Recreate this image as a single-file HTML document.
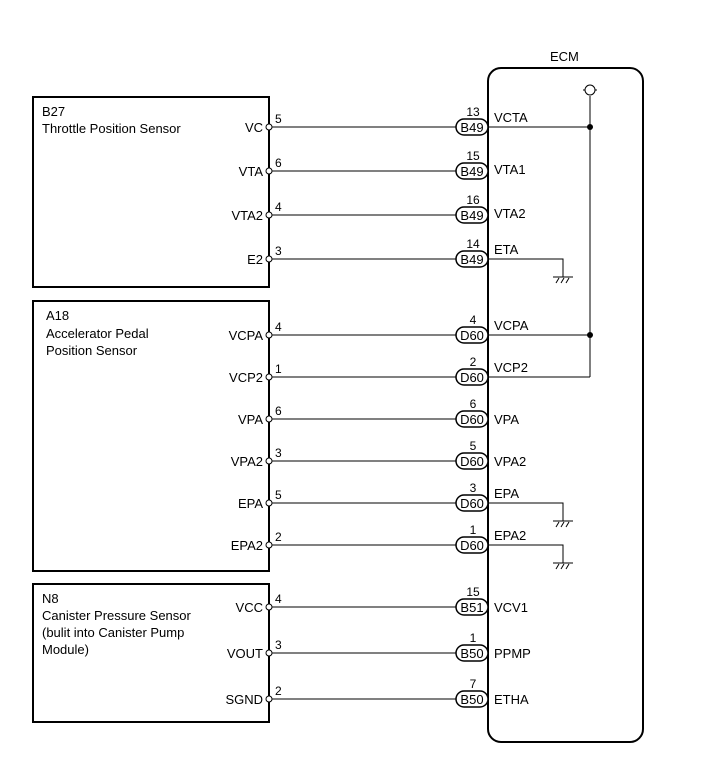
<!DOCTYPE html>
<html><head><meta charset="utf-8"><style>
html,body{margin:0;padding:0;background:#fff;}
svg{display:block;}
text{font-family:"Liberation Sans",Arial,sans-serif;font-size:13px;fill:#000;}
.s{font-size:12px;}
.e{text-anchor:end;}
.m{text-anchor:middle;}
</style></head><body>
<svg width="713" height="782" viewBox="0 0 713 782" xmlns="http://www.w3.org/2000/svg">
<g fill="none" stroke="#000">
<rect x="33" y="97" width="236" height="190" stroke-width="2"/>
<rect x="33" y="301" width="236" height="270" stroke-width="2"/>
<rect x="33" y="584" width="236" height="138" stroke-width="2"/>
<rect x="488" y="68" width="155" height="674" rx="13" ry="13" stroke-width="2"/>
</g>
<text x="550" y="61">ECM</text>
<text x="42" y="116">B27</text>
<text x="42" y="133">Throttle Position Sensor</text>
<text x="46" y="320">A18</text>
<text x="46" y="338">Accelerator Pedal</text>
<text x="46" y="355">Position Sensor</text>
<text x="42" y="603">N8</text>
<text x="42" y="620">Canister Pressure Sensor</text>
<text x="42" y="637">(bulit into Canister Pump</text>
<text x="42" y="654">Module)</text>

<g stroke="#000" fill="none" stroke-width="1">
<line x1="590" y1="96" x2="590" y2="377"/>
<line x1="583" y1="90" x2="597" y2="90"/>
<circle cx="590" cy="90" r="5" fill="#fff"/>
<line x1="488" y1="377" x2="590" y2="377"/>
<line x1="488" y1="127" x2="590" y2="127"/>
<line x1="488" y1="335" x2="590" y2="335"/>
<polyline points="488,259 563,259 563,277"/>
<polyline points="488,503 563,503 563,521"/>
<polyline points="488,545 563,545 563,563"/>
<line x1="553" y1="277" x2="573" y2="277"/>
<line x1="556" y1="283" x2="559" y2="278"/><line x1="561" y1="283" x2="564" y2="278"/><line x1="566" y1="283" x2="569" y2="278"/>
<line x1="553" y1="521" x2="573" y2="521"/>
<line x1="556" y1="527" x2="559" y2="522"/><line x1="561" y1="527" x2="564" y2="522"/><line x1="566" y1="527" x2="569" y2="522"/>
<line x1="553" y1="563" x2="573" y2="563"/>
<line x1="556" y1="569" x2="559" y2="564"/><line x1="561" y1="569" x2="564" y2="564"/><line x1="566" y1="569" x2="569" y2="564"/>
<!-- wires -->
<line x1="272" y1="127" x2="456" y2="127"/>
<line x1="272" y1="171" x2="456" y2="171"/>
<line x1="272" y1="215" x2="456" y2="215"/>
<line x1="272" y1="259" x2="456" y2="259"/>
<line x1="272" y1="335" x2="456" y2="335"/>
<line x1="272" y1="377" x2="456" y2="377"/>
<line x1="272" y1="419" x2="456" y2="419"/>
<line x1="272" y1="461" x2="456" y2="461"/>
<line x1="272" y1="503" x2="456" y2="503"/>
<line x1="272" y1="545" x2="456" y2="545"/>
<line x1="272" y1="607" x2="456" y2="607"/>
<line x1="272" y1="653" x2="456" y2="653"/>
<line x1="272" y1="699" x2="456" y2="699"/>
</g>
<circle cx="590" cy="127" r="3"/>
<circle cx="590" cy="335" r="3"/>
<g fill="#fff" stroke="#000">
<circle cx="269" cy="127" r="3"/><circle cx="269" cy="171" r="3"/><circle cx="269" cy="215" r="3"/><circle cx="269" cy="259" r="3"/>
<circle cx="269" cy="335" r="3"/><circle cx="269" cy="377" r="3"/><circle cx="269" cy="419" r="3"/><circle cx="269" cy="461" r="3"/><circle cx="269" cy="503" r="3"/><circle cx="269" cy="545" r="3"/>
<circle cx="269" cy="607" r="3"/><circle cx="269" cy="653" r="3"/><circle cx="269" cy="699" r="3"/>
</g>
<g fill="#fff" stroke="#000" stroke-width="1.5">
<rect x="456" y="119" width="32" height="16" rx="8"/>
<rect x="456" y="163" width="32" height="16" rx="8"/>
<rect x="456" y="207" width="32" height="16" rx="8"/>
<rect x="456" y="251" width="32" height="16" rx="8"/>
<rect x="456" y="327" width="32" height="16" rx="8"/>
<rect x="456" y="369" width="32" height="16" rx="8"/>
<rect x="456" y="411" width="32" height="16" rx="8"/>
<rect x="456" y="453" width="32" height="16" rx="8"/>
<rect x="456" y="495" width="32" height="16" rx="8"/>
<rect x="456" y="537" width="32" height="16" rx="8"/>
<rect x="456" y="599" width="32" height="16" rx="8"/>
<rect x="456" y="645" width="32" height="16" rx="8"/>
<rect x="456" y="691" width="32" height="16" rx="8"/>
</g>
<!-- left labels -->
<text class="e" x="263" y="132">VC</text><text class="s" x="275" y="123">5</text>
<text class="e" x="263" y="176">VTA</text><text class="s" x="275" y="167">6</text>
<text class="e" x="263" y="220">VTA2</text><text class="s" x="275" y="211">4</text>
<text class="e" x="263" y="264">E2</text><text class="s" x="275" y="255">3</text>
<text class="e" x="263" y="340">VCPA</text><text class="s" x="275" y="331">4</text>
<text class="e" x="263" y="382">VCP2</text><text class="s" x="275" y="373">1</text>
<text class="e" x="263" y="424">VPA</text><text class="s" x="275" y="415">6</text>
<text class="e" x="263" y="466">VPA2</text><text class="s" x="275" y="457">3</text>
<text class="e" x="263" y="508">EPA</text><text class="s" x="275" y="499">5</text>
<text class="e" x="263" y="550">EPA2</text><text class="s" x="275" y="541">2</text>
<text class="e" x="263" y="612">VCC</text><text class="s" x="275" y="603">4</text>
<text class="e" x="263" y="658">VOUT</text><text class="s" x="275" y="649">3</text>
<text class="e" x="263" y="704">SGND</text><text class="s" x="275" y="695">2</text>
<!-- connectors -->
<text class="m" x="472" y="132">B49</text><text class="m s" x="473" y="116">13</text><text x="494" y="122">VCTA</text>
<text class="m" x="472" y="176">B49</text><text class="m s" x="473" y="160">15</text><text x="494" y="174">VTA1</text>
<text class="m" x="472" y="220">B49</text><text class="m s" x="473" y="204">16</text><text x="494" y="218">VTA2</text>
<text class="m" x="472" y="264">B49</text><text class="m s" x="473" y="248">14</text><text x="494" y="254">ETA</text>
<text class="m" x="472" y="340">D60</text><text class="m s" x="473" y="324">4</text><text x="494" y="330">VCPA</text>
<text class="m" x="472" y="382">D60</text><text class="m s" x="473" y="366">2</text><text x="494" y="372">VCP2</text>
<text class="m" x="472" y="424">D60</text><text class="m s" x="473" y="408">6</text><text x="494" y="424">VPA</text>
<text class="m" x="472" y="466">D60</text><text class="m s" x="473" y="450">5</text><text x="494" y="466">VPA2</text>
<text class="m" x="472" y="508">D60</text><text class="m s" x="473" y="492">3</text><text x="494" y="498">EPA</text>
<text class="m" x="472" y="550">D60</text><text class="m s" x="473" y="534">1</text><text x="494" y="540">EPA2</text>
<text class="m" x="472" y="612">B51</text><text class="m s" x="473" y="596">15</text><text x="494" y="612">VCV1</text>
<text class="m" x="472" y="658">B50</text><text class="m s" x="473" y="642">1</text><text x="494" y="658">PPMP</text>
<text class="m" x="472" y="704">B50</text><text class="m s" x="473" y="688">7</text><text x="494" y="704">ETHA</text>
</svg>
</body></html>
